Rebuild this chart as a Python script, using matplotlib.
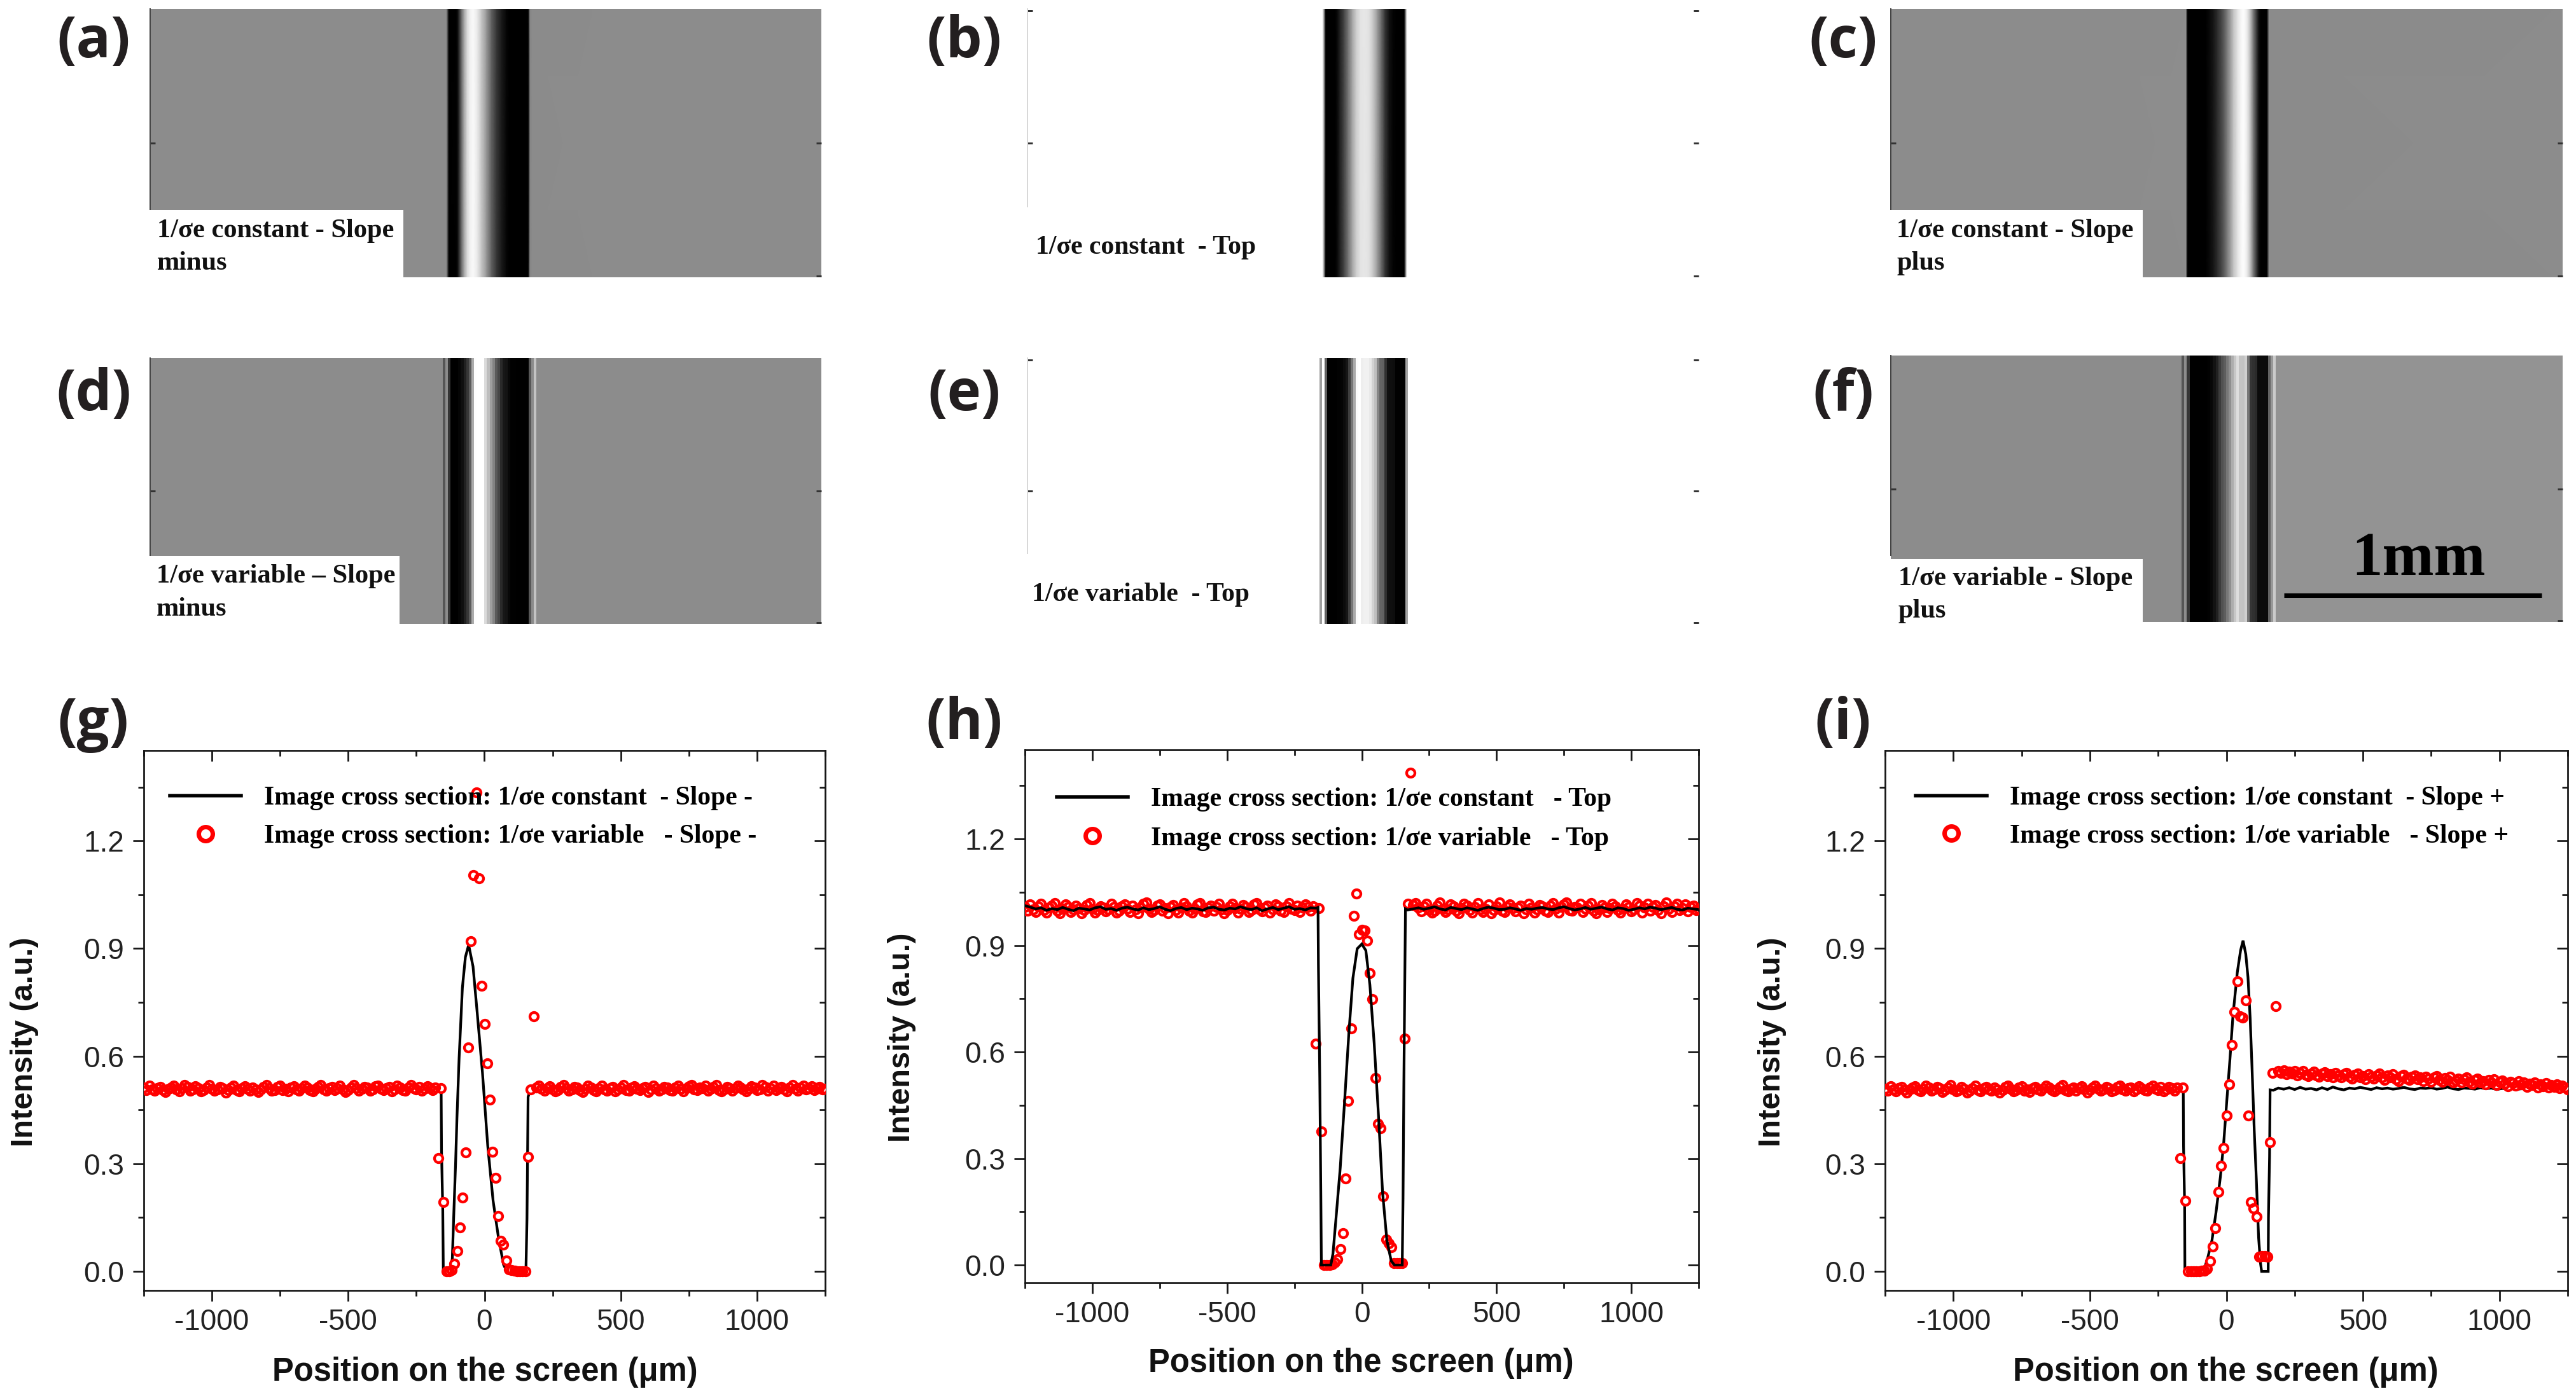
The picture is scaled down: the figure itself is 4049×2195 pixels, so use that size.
import numpy as np
import matplotlib
matplotlib.use("Agg")
import matplotlib.pyplot as plt
from matplotlib.lines import Line2D
from matplotlib.patches import Rectangle

W, H = 4049, 2195
RED = "#ff0000"
INK = "#151515"
SERIF = "Liberation Serif"
SANS = "Liberation Sans"

# ---------- scatter values (1/sigma-e variable), central region on a 10 um grid
centre_x = list(range(-170, 190, 10))
g_centre = [.315, .511, .194, 0, 0, .003, .021, .057, .123, .205, .331, .624, .921, 1.105, 1.335, 1.096, .796, .690,
            .579, .479, .334, .261, .154, .085, .075, .030, .006, .004, .002, 0, 0, 0, 0, .319, .507, .711]
h_centre = [.624, 1.005, .377, 0, 0, 0, .002, .008, .017, .045, .089, .244, .463, .667, .983, 1.047, .932, .944,
            .942, .914, .823, .748, .526, .397, .386, .194, .072, .061, .051, .006, .006, .005, .005, .638, 1.018, 1.386]
i_centre = [.316, .513, .197, 0, 0, 0, .001, .001, .002, .002, .008, .029, .070, .120, .221, .295, .344, .434,
            .521, .632, .723, .808, .711, .707, .755, .435, .194, .176, .153, .041, .043, .043, .041, .360, .553, .739]

# flanks, in thousandths, 10 um grid: -1250..-180 and 190..1250
g_left = [512,505,518,508,503,511,515,506,500,509,513,517,507,502,510,519,514,504,508,516,
          511,501,506,513,520,509,503,507,515,510,498,505,512,518,506,502,511,516,509,504,
          513,508,500,507,515,519,510,503,506,514,517,505,509,501,512,516,508,504,511,518,
          513,506,502,509,515,520,507,503,510,514,505,511,517,508,500,506,513,519,510,504,
          509,515,512,503,507,516,518,509,505,511,514,502,508,517,512,506,504,513,519,510,
          507,515,503,509,516,511,505,513]
g_right = [513,518,509,504,511,516,507,502,506,514,519,510,503,508,515,512,505,500,509,517,
           513,506,502,511,518,507,504,510,515,501,508,513,519,506,503,512,516,509,505,511,
           514,500,507,517,510,503,508,515,512,506,504,513,518,509,502,511,516,520,507,505,
           512,510,517,503,509,514,519,506,501,508,515,511,504,510,518,513,507,502,509,516,
           512,505,508,519,514,503,510,517,506,511,515,508,502,513,520,509,504,512,518,507,
           510,516,505,511,514,507,509]
h_left = [1008,998,1015,1002,994,1010,1018,1000,992,1006,1013,1020,997,991,1004,1016,1009,995,1001,1012,
          1005,990,999,1014,1019,1003,993,1000,1011,1007,996,1002,1017,1008,992,998,1010,1015,1004,994,
          1012,1001,991,1006,1018,1021,1003,995,999,1013,1016,997,1005,990,1009,1014,1000,993,1007,1019,
          1011,998,992,1004,1015,1020,996,994,1006,1012,997,1008,1017,1001,991,999,1010,1018,1005,993,
          1003,1014,1009,995,1000,1016,1019,1002,996,1007,1013,992,1001,1015,1010,998,994,1011,1020,1004,
          999,1012,995,1006,1016,1008,997,1010]
h_right = [1014,1020,1006,996,1010,1017,1000,992,998,1013,1021,1004,994,1002,1016,1011,997,990,1005,1018,
           1012,999,993,1008,1019,1001,995,1004,1015,991,1000,1011,1022,998,994,1009,1016,1005,996,1007,
           1013,990,1002,1017,1006,993,1001,1014,1010,998,995,1012,1019,1003,992,1008,1015,1021,1000,997,
           1009,1006,1018,994,1003,1012,1020,998,991,1001,1014,1007,995,1005,1018,1011,999,992,1004,1016,
           1009,996,1001,1019,1013,993,1006,1017,997,1008,1014,1000,991,1011,1021,1003,994,1010,1018,999,
           1005,1015,996,1008,1012,1000,1003]
i_left = [509,503,516,507,501,510,514,505,499,508,512,516,506,501,509,518,513,503,507,515,
          510,500,505,512,519,508,502,506,514,509,498,504,511,517,505,501,510,515,508,503,
          512,507,499,506,514,518,509,502,505,513,516,504,508,500,511,515,507,503,510,517,
          512,505,501,508,514,519,506,502,509,513,504,510,516,507,499,505,512,518,509,503,
          508,514,511,502,506,515,517,508,504,510,513,501,507,516,511,505,503,512,518,509,
          506,514,502,508,515,510,504,512]
i_right = [558,553,560,549,556,551,558,546,553,559,548,544,552,556,547,542,551,555,545,549,
           541,553,546,540,550,554,543,537,548,552,541,545,536,550,543,538,547,551,540,534,
           546,541,549,536,531,544,548,538,533,542,546,535,540,530,543,537,528,541,545,533,
           529,539,534,542,527,532,538,526,535,540,529,524,534,537,526,531,522,533,527,535,
           520,528,532,523,516,529,525,518,530,521,526,515,524,519,527,513,522,516,525,512,
           520,515,522,510,518,513,508]

# ---------- line values (1/sigma-e constant)
g_line_x = [-1250, -800, -400, -159, -157.6, -153, -151, -124, -118, -112, -106, -101, -93, -81, -70, -58, -42, -27,
            -7.4, 12, 31.5, 51, 70, 82, 152, 156, 160, 168, 400, 800, 1250]
g_line_y = [.51, .51, .51, .511, .335, .172, 0, .004, .036, .172, .30, .427, .596, .791, .876, .91, .85, .724,
            .554, .35, .198, .096, .019, 0, 0, .147, .486, .507, .51, .51, .51]

h_core_x = [-162.5, -161, -156, -152, -150, -115, -107, -96, -80, -64, -48, -33, -17, 0, 15, 30, 46, 62, 77, 93, 109,
            121, 150, 153, 156, 160, 162]
h_core_y = [1.007, .847, .527, .197, 0, 0, .032, .129, .274, .459, .653, .808, .891, .904, .886, .789, .624, .42,
            .206, .07, .012, 0, 0, .187, .507, .827, 1.003]
h_line_left = [1012,1008,1003,1006,999,1004,1001,1007,1002,998,1005,1003,1000,1006,1009,1002,1004,999,1005,1008,
               1003,1000,1006,1001,1004,1009,1002,998,1004,1007,1001,1005,1003,999,1006,1008,1002,1000,1005,1003,
               1009,1004,1001,1006,998,1003,1007,1001,1005,1009,1002,1004,1000,1006,1005]
h_line_right = [1000,1003,1006,1002,1005,1009,1003,1000,1007,1004,1001,1006,1003,999,1004,1008,1005,1001,1002,1006,
                1003,999,1004,1002,1005,1007,1003,1001,1006,1009,1004,1000,1003,1007,1002,1005,1008,1003,1000,1006,
                1004,999,1002,1006,1003,1008,1005,1001,1004,1007,1002,1000,1005,1003,1001]

i_core_x = [-1250, -800, -400, -158, -157, -153, -152, -146, -84, -69, -53, -38, -22, -10, 1, 13, 24, 40, 52, 61, 71,
            79, 87, 94, 102, 110, 118, 125, 129, 153, 154, 158, 160, 172]
i_core_y = [.51, .51, .51, .513, .35, .186, .006, 0, 0, .036, .086, .165, .264, .357, .471, .592, .713, .834, .895,
            .922, .884, .82, .706, .564, .392, .25, .093, .022, 0, 0, .15, .321, .506, .505]
i_line_tail = [511,508,512,507,513,508,510,506,512,507,514,509,506,511,509,513,510,507,512,509,
               511,508,510,513,509,507,511,510,512,508,510,514,509,507,511,510,508,512,509,511,
               507,510,509,512,508,510,511,509,507,510,512,509,510,508]

# flat background levels of the image panels
g_bg = .51
h_bg = 1.0
i_bg_left = .51
i_bg_right = .535

# ---------- text
panel_letters = ["(a)", "(b)", "(c)", "(d)", "(e)", "(f)", "(g)", "(h)", "(i)"]
image_labels = ["1/σe constant - Slope\nminus", "1/σe constant  - Top", "1/σe constant - Slope\nplus",
                "1/σe variable – Slope\nminus", "1/σe variable  - Top", "1/σe variable - Slope\nplus"]
legend_labels = {
    "g": ["Image cross section: 1/σe constant  - Slope -", "Image cross section: 1/σe variable   - Slope -"],
    "h": ["Image cross section: 1/σe constant   - Top", "Image cross section: 1/σe variable   - Top"],
    "i": ["Image cross section: 1/σe constant  - Slope +", "Image cross section: 1/σe variable   - Slope +"],
}
x_ticks = [-1000, -500, 0, 500, 1000]
y_ticks = [0.0, 0.3, 0.6, 0.9, 1.2]
xlabel = "Position on the screen (μm)"
ylabel = "Intensity (a.u.)"


def assemble(left, centre, right):
    x = np.r_[np.arange(-1250, -179, 10), centre_x, np.arange(190, 1251, 10)]
    y = np.r_[np.array(left) / 1000, centre, np.array(right) / 1000]
    return x, y


g_sx, g_sy = assemble(g_left, g_centre, g_right)
h_sx, h_sy = assemble(h_left, h_centre, h_right)
i_sx, i_sy = assemble(i_left, i_centre, i_right)
g_lx, g_ly = np.array(g_line_x), np.array(g_line_y)
h_lx = np.r_[np.arange(-1250, -169, 20), h_core_x, np.arange(170, 1251, 20)]
h_ly = np.r_[np.array(h_line_left) / 1000, h_core_y, np.array(h_line_right) / 1000]
i_lx = np.r_[i_core_x, np.arange(190, 1251, 20)]
i_ly = np.r_[i_core_y, np.array(i_line_tail) / 1000]

# image cross sections: measured centre with flat flanks
c_x = np.r_[i_core_x, 1250]
c_y = np.r_[i_core_y, .51]
d_x = np.r_[-400, -180, centre_x, 190, 400]
d_y = np.r_[g_bg, g_bg, g_centre, g_bg, g_bg]
e_x = np.r_[-400, -180, centre_x, 190, 400]
e_y = np.r_[h_bg, h_bg, h_centre, h_bg, h_bg]
f_x = np.r_[-400, -180, centre_x, 190, 400]
f_y = np.r_[i_bg_left, i_bg_left, i_centre, i_bg_right, i_bg_right]

fig = plt.figure(figsize=(W / 100, H / 100), dpi=100, facecolor="white")


def px(v):
    return v * 0.72


def axes_px(l, t, r, b):
    return fig.add_axes([l / W, 1 - b / H, (r - l) / W, (b - t) / H])


def fig_text(x, y, s, **kw):
    return fig.text(x / W, 1 - y / H, s, zorder=10, **kw)


# ---------- image panels
S = 0.41
images = [
    dict(box=(236, 14, 1291, 436), c=767.5, x=g_lx, y=g_ly, vmax=.93, sh="gouraud", wb=(236, 330, 634, 436), txt=(247, 363, 414)),
    dict(box=(1615, 14, 2670, 436), c=2145.5, x=h_lx, y=h_ly, vmax=1.0, sh="gouraud", wb=None, txt=(1628, 389, None)),
    dict(box=(2972, 14, 4028, 436), c=3501, x=c_x, y=c_y, vmax=.93, sh="gouraud", wb=(2972, 330, 3368, 436), txt=(2981, 363, 414)),
    dict(box=(236, 563, 1291, 981), c=767.5, x=d_x, y=d_y, vmax=.93, sh="nearest", wb=(236, 874, 628, 981), txt=(246, 906, 958)),
    dict(box=(1615, 563, 2670, 981), c=2145.5, x=e_x, y=e_y, vmax=1.0, sh="nearest", wb=None, txt=(1622, 935, None)),
    dict(box=(2972, 559, 4028, 978), c=3501, x=f_x, y=f_y, vmax=.93, sh="nearest", wb=(2972, 879, 3368, 978), txt=(2984, 910, 961)),
]
for idx, d in enumerate(images):
    l, t, r, b = d["box"]
    ax = axes_px(l, t, r, b)
    lo, hi = (l - d["c"]) / S, (r - d["c"]) / S
    xs = np.r_[lo - 40, d["x"], hi + 40]
    ys = np.r_[d["y"][0], d["y"], d["y"][-1]]
    X, Y = np.meshgrid(xs, [0, 1])
    C = np.vstack([ys, ys])
    ax.pcolormesh(X, Y, C, shading=d["sh"], cmap="gray", vmin=0, vmax=d["vmax"], rasterized=True)
    ax.set_xlim(lo, hi)
    ax.set_ylim(0, 1)
    for sp in ax.spines.values():
        sp.set_visible(False)
    ax.set_xticks([])
    white_bg = idx in (1, 4)
    ax.set_yticks([.004, .5] + ([.994] if white_bg else []))
    ax.tick_params(axis="y", direction="in", length=6, width=px(3), color="#333333",
                   left=True, right=True, labelleft=False)
    ax.spines["left"].set_visible(True)
    ax.spines["left"].set_color("#d8d8d8" if white_bg else "#444444")
    ax.spines["left"].set_linewidth(px(2))
    ax.spines["left"].set_bounds(0.25, 1)
    if d["wb"]:
        wl, wt, wr, wb_ = d["wb"]
        fig.add_artist(Rectangle(((wl - 1.5) / W, 1 - wb_ / H), (wr - wl + 1.5) / W, (wb_ - wt) / H,
                                 transform=fig.transFigure, facecolor="white", edgecolor="none", zorder=5))
    else:
        fig.add_artist(Rectangle(((l - 2) / W, 1 - b / H), 370 / W, 110 / H, transform=fig.transFigure,
                                 facecolor="white", edgecolor="none", zorder=5))
    tx, y1, y2 = d["txt"]
    lines = image_labels[idx].split("\n")
    fs = 30.5 if y2 else 30
    fig_text(tx, y1, lines[0], family=SERIF, weight="bold", fontsize=fs, color="#111111", ha="left", va="center")
    if y2:
        fig_text(tx, y2, lines[1], family=SERIF, weight="bold", fontsize=fs, color="#111111", ha="left", va="center")
    if idx == 5:
        ax.plot([(3590 - d["c"]) / S, (3995 - d["c"]) / S], [(978 - 936) / 419] * 2, color="black", lw=px(7),
                solid_capstyle="butt")
        fig_text(3801, 881, "1mm", family=SERIF, weight="bold", fontsize=70, color="black", ha="center", va="center")

# ---------- profile panels
profiles = [
    dict(key="g", box=(226, 1180, 1297, 2029), ylim=(-.053, 1.452), sx=g_sx, sy=g_sy, lx=g_lx, ly=g_ly, line_top=False,
         leg=(267, 1236, 63), xl=(762, 2157), yl=(39, 1638)),
    dict(key="h", box=(1611, 1179, 2670, 2017), ylim=(-.05, 1.451), sx=h_sx, sy=h_sy, lx=h_lx, ly=h_ly, line_top=True,
         leg=(1661, 1238, 64), xl=(2139, 2144), yl=(1417, 1631)),
    dict(key="i", box=(2963, 1180, 4036, 2029), ylim=(-.053, 1.452), sx=i_sx, sy=i_sy, lx=i_lx, ly=i_ly, line_top=False,
         leg=(3011, 1236, 62), xl=(3498, 2157), yl=(2786, 1638)),
]
for p in profiles:
    l, t, r, b = p["box"]
    ax = axes_px(l, t, r, b)
    ax.plot(p["lx"], p["ly"], color="black", lw=px(4.2), zorder=4 if p["line_top"] else 2, solid_joinstyle="miter")
    if not p["line_top"]:
        ax.plot(p["sx"], p["sy"], ls="none", marker="o", ms=px(13), mew=0, mfc="white", zorder=3)
    ax.plot(p["sx"], p["sy"], ls="none", marker="o", ms=px(13), mew=px(4.3), mec=RED, mfc="none", zorder=3)
    ax.set_xlim(-1250, 1250)
    ax.set_ylim(*p["ylim"])
    ax.set_xticks(x_ticks)
    ax.set_xticks([-1250, -750, -250, 250, 750, 1250], minor=True)
    ax.set_yticks(y_ticks)
    ax.set_yticks([.15, .45, .75, 1.05, 1.35], minor=True)
    ax.set_xticklabels(["-1000", "-500", "0", "500", "1000"])
    ax.set_yticklabels(["0.0", "0.3", "0.6", "0.9", "1.2"])
    for sp in ax.spines.values():
        sp.set_linewidth(px(2.7))
        sp.set_color(INK)
    ax.tick_params(which="major", direction="out", length=px(17), width=px(2.7), color=INK,
                   labelsize=33, labelcolor="#222222")
    ax.tick_params(which="minor", direction="out", length=px(9), width=px(2.7), color=INK)
    ax.tick_params(axis="x", which="major", pad=8)
    ax.tick_params(axis="y", which="major", pad=10)
    for tl in ax.get_xticklabels() + ax.get_yticklabels():
        tl.set_family(SANS)
    top = ax.secondary_xaxis("top")
    top.set_xticks(x_ticks)
    top.set_xticks([-1250, -750, -250, 250, 750, 1250], minor=True)
    right = ax.secondary_yaxis("right")
    right.set_yticks(y_ticks)
    right.set_yticks([.15, .45, .75, 1.05, 1.35], minor=True)
    for sec in (top, right):
        sec.tick_params(which="major", direction="in", length=px(17), width=px(2.7), color=INK,
                        labeltop=False, labelright=False)
        sec.tick_params(which="minor", direction="in", length=px(9), width=px(2.7), color=INK)
        for sp in sec.spines.values():
            sp.set_visible(False)
    fig_text(p["xl"][0], p["xl"][1], xlabel, family=SANS, weight="bold", fontsize=36.5, color="#111111", ha="center", va="center")
    fig_text(p["yl"][0], p["yl"][1], ylabel, family=SANS, weight="bold", fontsize=35, color="#111111", ha="center", va="center",
             rotation=90)
    hl, hy, gap = p["leg"]
    handles = [Line2D([], [], color="black", lw=px(5.5)),
               Line2D([], [], ls="none", marker="o", ms=px(22), mew=px(7), mec=RED, mfc="white")]
    fs = 30
    em = fs / 0.72
    leg = ax.legend(handles, legend_labels[p["key"]], loc="upper left",
                    bbox_to_anchor=((hl - l) / (r - l), 1 - (hy - t) / (b - t)),
                    frameon=False, borderpad=0, borderaxespad=0, handlelength=112 / em, handletextpad=36 / em,
                    labelspacing=(gap - em * 0.98) / em, numpoints=1,
                    prop={"family": SERIF, "weight": "bold", "size": fs})
    leg.set_zorder(6)

# ---------- panel letters
letter_xy = [(147, 67), (1516, 67), (2897, 67), (147, 622), (1516, 622), (2897, 622), (147, 1139), (1516, 1139), (2897, 1139)]
for s, (x, y) in zip(panel_letters, letter_xy):
    fig_text(x, y, s, family="Open Sans", weight="bold", fontsize=65, color="#231f20", ha="center", va="center")

fig.savefig("out.png", dpi=100, facecolor="white")
